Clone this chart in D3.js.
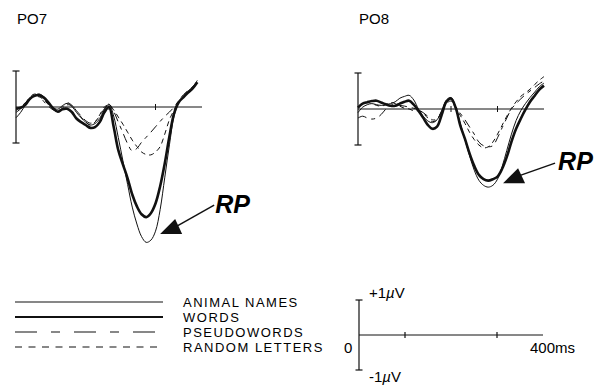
<!DOCTYPE html>
<html>
<head>
<meta charset="utf-8">
<script src="https://cdn.jsdelivr.net/npm/d3@7"></script>
<style>
  body { margin: 0; background: #fff; }
  svg { display: block; font-family: "Liberation Sans", Arial, sans-serif; }
</style>
</head>
<body>
<svg width="605" height="391"></svg>
<script>
// time points (ms), every 10 ms
const times = [0, 10, 20, 30, 40, 50, 60, 70, 80, 90, 100, 110, 120, 130, 140, 150, 160, 170, 180, 190,
  200, 210, 220, 230, 240, 250, 260, 270, 280, 290, 300, 310, 320, 330, 340, 350, 360, 370, 380, 390, 400]

const conditions = ["ANIMAL NAMES", "WORDS", "PSEUDOWORDS", "RANDOM LETTERS"]

// PO7 amplitudes (µV)
const po7Animal = [-0.3, -0.15, 0.05, 0.2, 0.32, 0.36, 0.28, 0.1, -0.02, -0.06, 0.04, 0.1, 0.02, -0.15, -0.3, -0.42,
  -0.5, -0.46, -0.32, -0.08, 0.08, -0.25, -0.85, -1.5, -2.15, -2.78, -3.25, -3.6, -3.76, -3.7, -3.45, -2.85,
  -1.95, -1.05, -0.25, 0.12, 0.3, 0.44, 0.56, 0.74]
const po7Words = [-0.04, -0.02, 0.06, 0.23, 0.31, 0.33, 0.26, 0.12, -0.04, -0.13, -0.06, -0.05, -0.14, -0.32, -0.42,
  -0.5, -0.58, -0.56, -0.42, -0.15, 0.0, -0.55, -1.2, -1.6, -1.98, -2.43, -2.76, -2.98, -3.06, -2.95, -2.68,
  -2.2, -1.56, -0.81, -0.18, 0.13, 0.27, 0.4, 0.52, 0.69]
const po7Pseudo = [-0.15, -0.05, 0.1, 0.28, 0.36, 0.3, 0.15, 0.02, -0.08, -0.1, 0.0, 0.12, 0.05, -0.1, -0.25, -0.38,
  -0.45, -0.4, -0.25, -0.05, 0.08, -0.12, -0.42, -0.72, -1.02, -1.22, -1.15, -0.98, -0.84, -0.7, -0.55, -0.4,
  -0.26, -0.14, 0.0, 0.18, 0.34, 0.46, 0.56, 0.66]
const po7Random = [-0.1, 0.0, 0.12, 0.25, 0.3, 0.28, 0.2, 0.06, -0.06, -0.1, -0.05, 0.06, 0.03, -0.1, -0.28, -0.42,
  -0.5, -0.42, -0.22, 0.0, 0.05, -0.08, -0.28, -0.48, -0.7, -0.92, -1.1, -1.25, -1.32, -1.33, -1.25, -1.1,
  -0.75, -0.35, -0.08, 0.15, 0.3, 0.42, 0.54, 0.62]

// PO8 amplitudes (µV)
const po8Animal = [-0.1, 0.05, 0.12, 0.15, 0.12, 0.1, 0.12, 0.15, 0.2, 0.3, 0.35, 0.38, 0.25, 0.0, -0.2, -0.33,
  -0.38, -0.3, -0.05, 0.25, 0.32, 0.05, -0.4, -0.85, -1.3, -1.7, -1.98, -2.12, -2.17, -2.12, -1.95, -1.6,
  -1.15, -0.7, -0.32, -0.05, 0.15, 0.32, 0.47, 0.62, 0.72]
const po8Words = [0.04, 0.15, 0.19, 0.22, 0.23, 0.18, 0.13, 0.09, 0.09, 0.15, 0.2, 0.23, 0.12, -0.05, -0.24, -0.44,
  -0.55, -0.49, -0.16, 0.2, 0.29, 0.04, -0.46, -0.83, -1.24, -1.58, -1.83, -1.95, -1.99, -1.95, -1.88, -1.66,
  -1.33, -0.91, -0.55, -0.27, -0.02, 0.2, 0.37, 0.54, 0.65]
const po8Pseudo = [-0.25, -0.2, -0.25, -0.28, -0.25, -0.15, 0.0, 0.1, 0.12, 0.1, 0.08, 0.05, 0.02, -0.02, -0.1, -0.2,
  -0.3, -0.28, -0.05, 0.18, 0.25, 0.05, -0.12, -0.3, -0.5, -0.7, -0.92, -1.02, -1.05, -1.02, -0.8, -0.52,
  -0.25, 0.0, 0.15, 0.28, 0.4, 0.5, 0.6, 0.7, 0.78]
const po8Random = [0.05, 0.15, 0.18, 0.15, 0.1, 0.08, 0.12, 0.18, 0.15, 0.08, 0.02, 0.0, -0.05, -0.05, -0.12, -0.25,
  -0.35, -0.3, -0.05, 0.15, 0.22, 0.02, -0.18, -0.4, -0.65, -0.85, -1.0, -1.08, -1.05, -0.92, -0.7, -0.45,
  -0.2, 0.02, 0.2, 0.35, 0.45, 0.55, 0.68, 0.8, 0.9]

const panelTicks = [200, 300]
const scaleTicks = [100, 300]

const svg = d3.select("svg")

// line styles per condition
const styles = [
  { width: 1, dash: null, legendDash: null },
  { width: 2.6, dash: null, legendDash: null },
  { width: 1, dash: "9,5,4,5", legendDash: "22,14,9,14" },
  { width: 1, dash: "5,4", legendDash: "7,6.5" }
]

const panels = [
  { name: "PO7", x0: 16, zeroY: 107, series: [po7Animal, po7Words, po7Pseudo, po7Random],
    rp: { ms: 310, uv: -3.53, lineEnd: [54, -29], text: [55, -21] } },
  { name: "PO8", x0: 358, zeroY: 109, series: [po8Animal, po8Words, po8Pseudo, po8Random],
    rp: { ms: 312, uv: -2.06, lineEnd: [52, -20], text: [55, -13] } }
]

const pxPerMs = 0.465
const pxPerUv = 36

panels.forEach((p) => {
  const x = d3.scaleLinear().domain([0, 400]).range([p.x0, p.x0 + 400 * pxPerMs])
  const y = d3.scaleLinear().domain([-1, 1]).range([p.zeroY + pxPerUv, p.zeroY - pxPerUv])
  const g = svg.append("g")

  g.append("text")
    .attr("x", p.x0 + 1)
    .attr("y", 24)
    .attr("font-size", 15)
    .text(p.name)

  // vertical scale bar with caps
  g.append("line").attr("x1", x(0)).attr("x2", x(0)).attr("y1", y(1)).attr("y2", y(-1))
    .attr("stroke", "#111").attr("stroke-width", 1.2)
  ;[1, -1].forEach((v) => {
    g.append("line").attr("x1", x(0) - 3.5).attr("x2", x(0) + 3.5).attr("y1", y(v)).attr("y2", y(v))
      .attr("stroke", "#111").attr("stroke-width", 1.2)
  })

  // time axis
  g.append("line").attr("x1", x(0)).attr("x2", x(400)).attr("y1", y(0)).attr("y2", y(0))
    .attr("stroke", "#111").attr("stroke-width", 1)
  g.selectAll(".tick").data(panelTicks).join("line")
    .attr("x1", (d) => x(d)).attr("x2", (d) => x(d))
    .attr("y1", y(0) - 3).attr("y2", y(0) + 3)
    .attr("stroke", "#111").attr("stroke-width", 1)

  const line = d3.line()
    .x((d) => x(d[0]))
    .y((d) => y(d[1]))
    .curve(d3.curveCatmullRom.alpha(0.5))

  p.series.forEach((s, i) => {
    const pts = s.map((v, k) => [times[k], v])
    g.append("path")
      .attr("d", line(pts))
      .attr("fill", "none")
      .attr("stroke", "#111")
      .attr("stroke-width", styles[i].width)
      .attr("stroke-dasharray", styles[i].dash)
      .attr("stroke-linejoin", "round")
  })

  // RP arrow
  const tx = x(p.rp.ms), ty = y(p.rp.uv)
  const a = g.append("g").attr("transform", `translate(${tx},${ty})`)
  a.append("path").attr("d", "M0,0L15,-15L22,0Z").attr("fill", "#111")
  a.append("line").attr("x1", 15).attr("y1", -7)
    .attr("x2", p.rp.lineEnd[0]).attr("y2", p.rp.lineEnd[1])
    .attr("stroke", "#111").attr("stroke-width", 1.5)
  a.append("text")
    .attr("x", p.rp.text[0]).attr("y", p.rp.text[1])
    .attr("font-size", 25).attr("font-weight", "bold").attr("font-style", "italic")
    .text("RP")
})

// legend
const legend = svg.append("g")
conditions.forEach((c, i) => {
  const yy = 302 + i * 15
  legend.append("line")
    .attr("x1", 15).attr("x2", 163).attr("y1", yy).attr("y2", yy)
    .attr("stroke", "#111")
    .attr("stroke-width", styles[i].width === 1 ? 1.1 : 2.2)
    .attr("stroke-dasharray", styles[i].legendDash)
  legend.append("text")
    .attr("x", 183).attr("y", yy + 5)
    .attr("font-size", 13)
    .attr("letter-spacing", 1.5)
    .text(c)
})

// calibration bar
const sx = d3.scaleLinear().domain([0, 400]).range([359, 543])
const sy = d3.scaleLinear().domain([-1, 1]).range([370, 300])
const cal = svg.append("g")
cal.append("line").attr("x1", sx(0)).attr("x2", sx(0)).attr("y1", sy(1)).attr("y2", sy(-1))
  .attr("stroke", "#111").attr("stroke-width", 1.2)
;[1, -1].forEach((v) => {
  cal.append("line").attr("x1", sx(0) - 3.5).attr("x2", sx(0) + 3.5).attr("y1", sy(v)).attr("y2", sy(v))
    .attr("stroke", "#111").attr("stroke-width", 1.2)
})
cal.append("line").attr("x1", sx(0)).attr("x2", sx(400)).attr("y1", sy(0)).attr("y2", sy(0))
  .attr("stroke", "#111").attr("stroke-width", 1)
cal.selectAll(".tick").data(scaleTicks).join("line")
  .attr("x1", (d) => sx(d)).attr("x2", (d) => sx(d))
  .attr("y1", sy(0) - 3).attr("y2", sy(0) + 3)
  .attr("stroke", "#111").attr("stroke-width", 1.2)

const plus = cal.append("text").attr("x", 369).attr("y", 298).attr("font-size", 15)
plus.append("tspan").text("+1")
plus.append("tspan").attr("font-style", "italic").text("µ")
plus.append("tspan").text("V")
const minus = cal.append("text").attr("x", 369).attr("y", 382).attr("font-size", 15)
minus.append("tspan").text("-1")
minus.append("tspan").attr("font-style", "italic").text("µ")
minus.append("tspan").text("V")
cal.append("text").attr("x", 344).attr("y", 353).attr("font-size", 15).text("0")
cal.append("text").attr("x", 530).attr("y", 353).attr("font-size", 15).text("400ms")
</script>
</body>
</html>
